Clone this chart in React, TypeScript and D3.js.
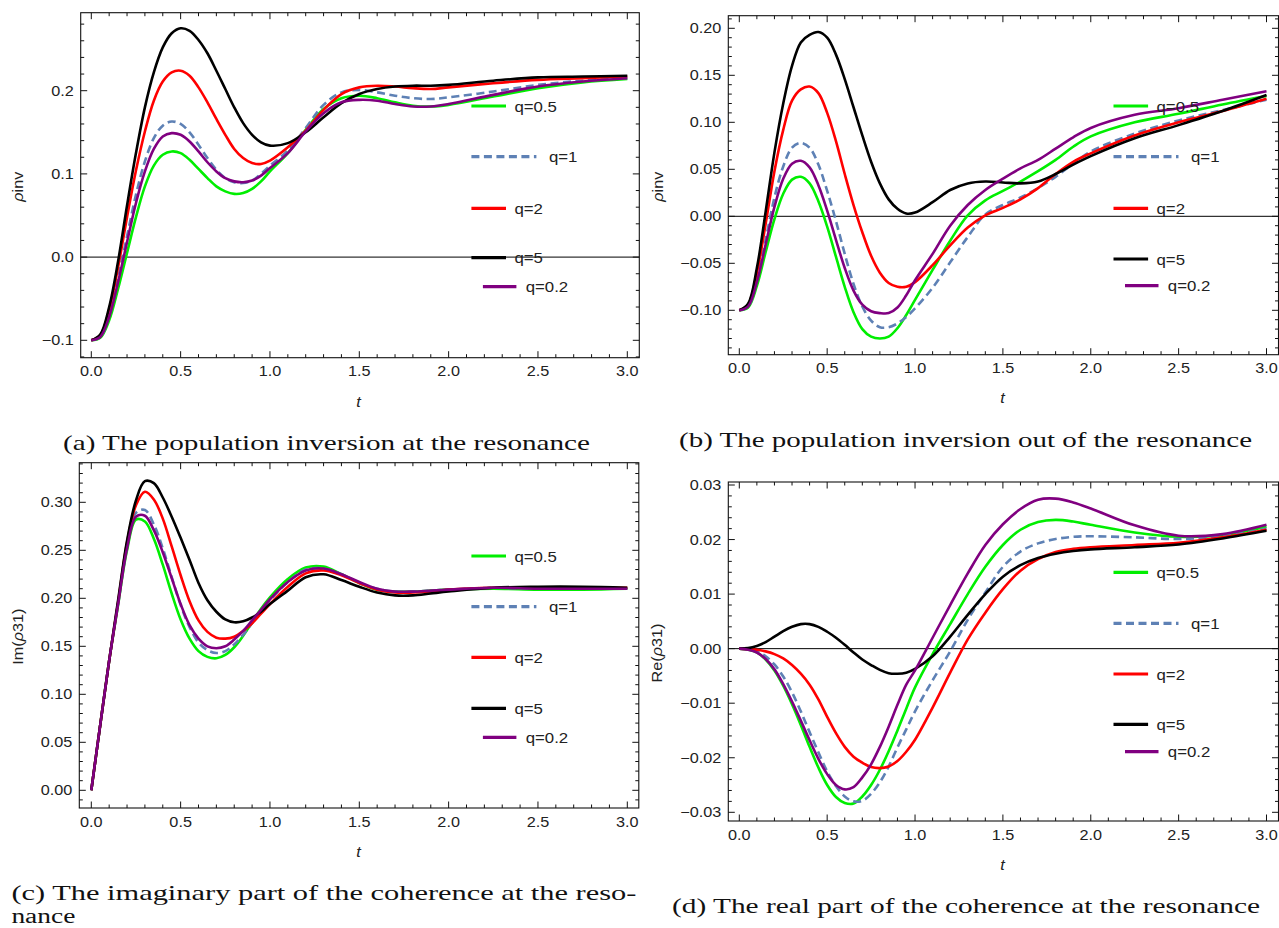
import React from 'react';
import * as d3 from 'd3';

// shared time grid
const T = [0, 0.05, 0.1, 0.15, 0.2, 0.25, 0.3, 0.35, 0.4, 0.45, 0.5, 0.55, 0.6, 0.65, 0.7, 0.75, 0.8, 0.85, 0.9, 0.95, 1.0,
  1.1, 1.2, 1.3, 1.4, 1.5, 1.6, 1.7, 1.8, 1.9, 2.0, 2.25, 2.5, 2.75, 3.0];

const LABELS = ['q=0.5', 'q=1', 'q=2', 'q=5', 'q=0.2'];

// (a) population inversion at resonance
const a_q05 = [-0.100, -0.097, -0.076, -0.038, 0.005, 0.048, 0.085, 0.110, 0.123, 0.127, 0.125, 0.117, 0.106, 0.095, 0.085, 0.079, 0.076, 0.077, 0.082, 0.091, 0.103,
  0.125, 0.153, 0.178, 0.191, 0.194, 0.191, 0.186, 0.182, 0.181, 0.183, 0.193, 0.203, 0.210, 0.214];
const a_q1 = [-0.100, -0.096, -0.070, -0.025, 0.025, 0.075, 0.115, 0.143, 0.158, 0.163, 0.160, 0.150, 0.135, 0.119, 0.105, 0.095, 0.090, 0.089, 0.092, 0.100, 0.110,
  0.128, 0.155, 0.183, 0.198, 0.201, 0.198, 0.194, 0.191, 0.190, 0.192, 0.199, 0.207, 0.212, 0.215];
const a_q2 = [-0.100, -0.094, -0.063, -0.012, 0.048, 0.104, 0.151, 0.188, 0.211, 0.222, 0.224, 0.218, 0.204, 0.186, 0.166, 0.147, 0.130, 0.119, 0.113, 0.112, 0.116,
  0.132, 0.152, 0.177, 0.196, 0.204, 0.206, 0.205, 0.203, 0.202, 0.204, 0.209, 0.213, 0.215, 0.217];
const a_q5 = [-0.100, -0.093, -0.060, -0.005, 0.062, 0.125, 0.180, 0.222, 0.252, 0.269, 0.275, 0.272, 0.261, 0.245, 0.224, 0.202, 0.180, 0.161, 0.147, 0.138, 0.134,
  0.137, 0.150, 0.168, 0.185, 0.196, 0.202, 0.205, 0.206, 0.206, 0.207, 0.212, 0.216, 0.217, 0.218];
const a_q02 = [-0.100, -0.096, -0.072, -0.030, 0.018, 0.065, 0.103, 0.130, 0.145, 0.149, 0.147, 0.139, 0.127, 0.114, 0.103, 0.095, 0.091, 0.090, 0.092, 0.098, 0.107,
  0.125, 0.151, 0.173, 0.186, 0.189, 0.188, 0.184, 0.181, 0.181, 0.184, 0.195, 0.205, 0.211, 0.215];

// (b) population inversion out of resonance
const b_q05 = [-0.100, -0.097, -0.074, -0.038, -0.003, 0.024, 0.039, 0.042, 0.035, 0.016, -0.011, -0.043, -0.075, -0.102, -0.120, -0.128, -0.130, -0.128, -0.119, -0.105, -0.089,
  -0.057, -0.026, 0.001, 0.017, 0.027, 0.037, 0.048, 0.060, 0.074, 0.085, 0.100, 0.109, 0.119, 0.128];
const b_q1 = [-0.100, -0.096, -0.068, -0.025, 0.020, 0.053, 0.073, 0.078, 0.073, 0.055, 0.027, -0.005, -0.040, -0.072, -0.096, -0.111, -0.118, -0.118, -0.114, -0.107, -0.098,
  -0.076, -0.049, -0.022, 0.002, 0.012, 0.020, 0.030, 0.042, 0.056, 0.069, 0.088, 0.102, 0.113, 0.124];
const b_q2 = [-0.100, -0.094, -0.060, -0.008, 0.048, 0.092, 0.123, 0.135, 0.138, 0.131, 0.110, 0.080, 0.045, 0.012, -0.017, -0.042, -0.060, -0.071, -0.075, -0.075, -0.070,
  -0.052, -0.031, -0.012, 0.001, 0.009, 0.018, 0.030, 0.045, 0.058, 0.067, 0.086, 0.100, 0.112, 0.125];
const b_q5 = [-0.100, -0.093, -0.055, 0.005, 0.068, 0.120, 0.160, 0.185, 0.193, 0.196, 0.190, 0.172, 0.146, 0.116, 0.086, 0.058, 0.035, 0.018, 0.008, 0.003, 0.004,
  0.015, 0.028, 0.035, 0.037, 0.036, 0.035, 0.037, 0.045, 0.055, 0.064, 0.083, 0.097, 0.112, 0.129];
const b_q02 = [-0.100, -0.096, -0.070, -0.030, 0.010, 0.040, 0.056, 0.059, 0.052, 0.033, 0.006, -0.025, -0.055, -0.079, -0.094, -0.101, -0.103, -0.103, -0.097, -0.084, -0.068,
  -0.040, -0.010, 0.012, 0.028, 0.040, 0.051, 0.060, 0.072, 0.084, 0.094, 0.108, 0.115, 0.124, 0.133];

// (c) imaginary part of coherence at resonance
const c_q05 = [0, 0.068, 0.135, 0.193, 0.250, 0.282, 0.280, 0.262, 0.235, 0.205, 0.178, 0.158, 0.145, 0.139, 0.1375, 0.141, 0.149, 0.161, 0.175, 0.189, 0.201,
  0.220, 0.232, 0.233, 0.225, 0.216, 0.209, 0.207, 0.207, 0.208, 0.209, 0.210, 0.209, 0.209, 0.210];
const c_q1 = [0, 0.068, 0.135, 0.194, 0.254, 0.289, 0.292, 0.277, 0.252, 0.222, 0.193, 0.170, 0.154, 0.146, 0.143, 0.145, 0.152, 0.162, 0.174, 0.186, 0.198,
  0.217, 0.230, 0.231, 0.225, 0.216, 0.210, 0.207, 0.207, 0.208, 0.209, 0.211, 0.210, 0.210, 0.210];
const c_q2 = [0, 0.068, 0.135, 0.196, 0.258, 0.297, 0.311, 0.303, 0.283, 0.254, 0.224, 0.197, 0.177, 0.165, 0.159, 0.158, 0.160, 0.166, 0.174, 0.184, 0.194,
  0.212, 0.226, 0.229, 0.224, 0.216, 0.209, 0.206, 0.206, 0.207, 0.209, 0.211, 0.211, 0.211, 0.211];
const c_q5 = [0, 0.068, 0.135, 0.198, 0.260, 0.302, 0.322, 0.320, 0.305, 0.285, 0.263, 0.240, 0.216, 0.198, 0.186, 0.178, 0.175, 0.176, 0.180, 0.186, 0.194,
  0.208, 0.222, 0.225, 0.219, 0.212, 0.206, 0.203, 0.203, 0.205, 0.207, 0.211, 0.212, 0.212, 0.211];
const c_q02 = [0, 0.068, 0.135, 0.194, 0.252, 0.285, 0.286, 0.271, 0.248, 0.221, 0.194, 0.172, 0.158, 0.150, 0.148, 0.150, 0.157, 0.166, 0.177, 0.188, 0.199,
  0.217, 0.229, 0.231, 0.225, 0.217, 0.210, 0.207, 0.207, 0.208, 0.209, 0.211, 0.210, 0.210, 0.210];

// (d) real part of coherence at resonance
const d_q05 = [0, -0.0002, -0.0007, -0.0020, -0.0040, -0.0068, -0.0102, -0.0140, -0.0180, -0.0218, -0.0250, -0.0272, -0.0283, -0.0284, -0.0271, -0.0250, -0.0222, -0.0188, -0.0150, -0.0110, -0.0071,
  -0.0010, 0.0045, 0.0100, 0.0150, 0.0190, 0.0218, 0.0232, 0.0236, 0.0233, 0.0227, 0.0213, 0.0205, 0.0208, 0.0224];
const d_q1 = [0, -0.0001, -0.0005, -0.0014, -0.0029, -0.0051, -0.0080, -0.0115, -0.0153, -0.0190, -0.0225, -0.0252, -0.0271, -0.0280, -0.0279, -0.0266, -0.0245, -0.0216, -0.0181, -0.0148, -0.0115,
  -0.0058, -0.0005, 0.0053, 0.0103, 0.0150, 0.0178, 0.0193, 0.0201, 0.0205, 0.0206, 0.0204, 0.0201, 0.0206, 0.0220];
const d_q2 = [0, -0.0001, -0.0002, -0.0005, -0.0010, -0.0018, -0.0030, -0.0046, -0.0066, -0.0093, -0.0125, -0.0155, -0.0180, -0.0198, -0.0209, -0.0217, -0.0219, -0.0216, -0.0206, -0.0189, -0.0167,
  -0.0108, -0.0044, 0.0017, 0.0066, 0.0109, 0.0143, 0.0164, 0.0177, 0.0183, 0.0186, 0.0190, 0.0194, 0.0204, 0.0218];
const d_q5 = [0, 0.0001, 0.0005, 0.0012, 0.0022, 0.0032, 0.0040, 0.0045, 0.0045, 0.0040, 0.0031, 0.0020, 0.0007, -0.0007, -0.0020, -0.0030, -0.0039, -0.0045, -0.0046, -0.0044, -0.0037,
  -0.0014, 0.0022, 0.0062, 0.0100, 0.0132, 0.0153, 0.0166, 0.0174, 0.0179, 0.0182, 0.0186, 0.0191, 0.0202, 0.0216];
const d_q02 = [0, -0.0002, -0.0007, -0.0019, -0.0038, -0.0065, -0.0097, -0.0132, -0.0168, -0.0202, -0.0230, -0.0250, -0.0258, -0.0254, -0.0236, -0.0212, -0.0180, -0.0143, -0.0103, -0.0066, -0.0040,
  0.0020, 0.0080, 0.0138, 0.0190, 0.0228, 0.0256, 0.0273, 0.0275, 0.0268, 0.0257, 0.0226, 0.0207, 0.0210, 0.0227];

const COLORS = ['#00ee00', '#5e81b5', '#ff0000', '#000000', '#800080'];
const DASH = [null, '8,4.5', null, null, null];

type Cfg = {
  id: string;
  frame: [number, number, number, number]; // x0, x1, y0, y1
  xr: [number, number];
  yd: [number, number];
  yr: [number, number];
  yMajor: number;
  yMinor: number;
  yDec: number;
  series: number[][];
  legendX: number;
  legendY: number[];
  ylabel: React.ReactNode;
  ylabelPos: [number, number];
  tPos: [number, number];
  zeroLine: boolean;
};

const TICK_FONT = "'Liberation Sans', Arial, sans-serif";
const SX = 1.12;

function fmt(v: number, dec: number) {
  const s = Math.abs(v).toFixed(dec);
  return (v < -1e-9 ? '\u2212' : '') + s;
}

function Panel({ cfg }: { cfg: Cfg }) {
  const [fx0, fx1, fy0, fy1] = cfg.frame;
  const x = d3.scaleLinear().domain([0, 3]).range(cfg.xr);
  const y = d3.scaleLinear().domain(cfg.yd).range(cfg.yr);
  const line = d3.line<number>()
    .x((_, i) => x(T[i]))
    .y((v) => y(v))
    .curve(d3.curveCatmullRom.alpha(0.5));

  const xMinor = d3.range(0, 31).map((i) => i * 0.1);
  const yLo = y.invert(fy1), yHi = y.invert(fy0);
  const yTicks: { v: number; major: boolean }[] = [];
  const start = Math.ceil(yLo / cfg.yMinor - 1e-6);
  const end = Math.floor(yHi / cfg.yMinor + 1e-6);
  for (let k = start; k <= end; k++) {
    const v = k * cfg.yMinor;
    const r = v / cfg.yMajor;
    yTicks.push({ v, major: Math.abs(r - Math.round(r)) < 1e-6 });
  }
  const ML = 6.5, mL = 3.5;
  const clipId = 'clip-' + cfg.id;

  return (
    <g>
      <defs>
        <clipPath id={clipId}>
          <rect x={fx0} y={fy0} width={fx1 - fx0} height={fy1 - fy0} />
        </clipPath>
      </defs>
      {cfg.zeroLine && (
        <line x1={fx0} x2={fx1} y1={y(0)} y2={y(0)} stroke="#000" strokeWidth={1} />
      )}
      <g clipPath={`url(#${clipId})`}>
        {cfg.series.map((s, i) => (
          <path key={i} d={line(s) || ''} fill="none" stroke={COLORS[i]} strokeWidth={2.6}
            strokeDasharray={DASH[i] || undefined} strokeLinejoin="round" />
        ))}
      </g>
      <rect x={fx0} y={fy0} width={fx1 - fx0} height={fy1 - fy0} fill="none" stroke="#111" strokeWidth={1.1} />
      {xMinor.map((t, i) => {
        const major = i % 5 === 0;
        const L = major ? ML : mL;
        const px = x(t);
        return (
          <g key={'xt' + i}>
            <line x1={px} x2={px} y1={fy1} y2={fy1 - L} stroke="#111" strokeWidth={1} />
            <line x1={px} x2={px} y1={fy0} y2={fy0 + L} stroke="#111" strokeWidth={1} />
          </g>
        );
      })}
      {d3.range(0, 7).map((i) => {
        const t = i * 0.5;
        return (
          <text key={'xl' + i} transform={`translate(${x(t)},${fy1 + 18.5}) scale(${SX},1)`} textAnchor="middle"
            fontFamily={TICK_FONT} fontSize={14.5} fill="#222">{t.toFixed(1)}</text>
        );
      })}
      {yTicks.map((tk, i) => {
        const py = y(tk.v);
        const L = tk.major ? ML : mL;
        return (
          <g key={'yt' + i}>
            <line x1={fx0} x2={fx0 + L} y1={py} y2={py} stroke="#111" strokeWidth={1} />
            <line x1={fx1} x2={fx1 - L} y1={py} y2={py} stroke="#111" strokeWidth={1} />
            {tk.major && (
              <text transform={`translate(${fx0 - 7},${py + 5}) scale(${SX},1)`} textAnchor="end"
                fontFamily={TICK_FONT} fontSize={14.5} fill="#222">{fmt(tk.v, cfg.yDec)}</text>
            )}
          </g>
        );
      })}
      <text transform={`translate(${cfg.tPos[0]},${cfg.tPos[1] + 5}) scale(${SX},1)`} textAnchor="middle"
        fontFamily={TICK_FONT} fontSize={14.5} fontStyle="italic" fill="#222">t</text>
      <text transform={`translate(${cfg.ylabelPos[0] + 5},${cfg.ylabelPos[1]}) rotate(-90) scale(${SX},1)`} textAnchor="middle"
        fontFamily={TICK_FONT} fontSize={14.5} fill="#222">{cfg.ylabel}</text>
      {LABELS.map((lab, i) => {
        const ly = cfg.legendY[i];
        let x0 = cfg.legendX, x1 = cfg.legendX + 34.6, tx = cfg.legendX + 43;
        if (i === 1) { x1 = cfg.legendX + 65; tx = cfg.legendX + 77.5; }
        if (i === 4) { x0 = cfg.legendX + 11.5; x1 = cfg.legendX + 45; tx = cfg.legendX + 54.3; }
        return (
          <g key={'lg' + i}>
            <line x1={x0} x2={x1} y1={ly} y2={ly} stroke={COLORS[i]} strokeWidth={3.2}
              strokeDasharray={DASH[i] || undefined} />
            <text transform={`translate(${tx},${ly + 5.5}) scale(${SX},1)`} fontFamily={TICK_FONT} fontSize={15} fill="#222">{lab}</text>
          </g>
        );
      })}
    </g>
  );
}

const rho = (rest: string) => (
  <>
    <tspan fontStyle="italic">{'\u03c1'}</tspan>
    <tspan>{rest}</tspan>
  </>
);

const PANELS: Cfg[] = [
  {
    id: 'a', frame: [80.7, 639.3, 12.7, 357.7], xr: [91.3, 627.3], yd: [-0.1, 0.2], yr: [340.3, 90.7],
    yMajor: 0.1, yMinor: 0.02, yDec: 1, series: [a_q05, a_q1, a_q2, a_q5, a_q02],
    legendX: 471.4, legendY: [106, 156.7, 208.3, 257.7, 286.7],
    ylabel: rho('inv'), ylabelPos: [18.4, 186.7], tPos: [358.4, 401.7], zeroLine: true,
  },
  {
    id: 'b', frame: [728.3, 1278.5, 15.7, 354.7], xr: [739.3, 1266.5], yd: [-0.1, 0.2], yr: [310.3, 28.3],
    yMajor: 0.05, yMinor: 0.01, yDec: 2, series: [b_q05, b_q1, b_q2, b_q5, b_q02],
    legendX: 1113.5, legendY: [106, 156.7, 208.3, 259, 285.7],
    ylabel: rho('inv'), ylabelPos: [658.4, 186.7], tPos: [1002.4, 398.3], zeroLine: true,
  },
  {
    id: 'c', frame: [79.3, 638.8, 462.7, 808], xr: [91.3, 627.3], yd: [0, 0.3], yr: [790.3, 502.3],
    yMajor: 0.05, yMinor: 0.01, yDec: 2, series: [c_q05, c_q1, c_q2, c_q5, c_q02],
    legendX: 471.4, legendY: [556, 606.7, 657.3, 708.3, 737.3],
    ylabel: <><tspan>Im(</tspan><tspan fontStyle="italic">{'\u03c1'}</tspan><tspan>31)</tspan></>,
    ylabelPos: [18.4, 636.7], tPos: [358.4, 851.7], zeroLine: false,
  },
  {
    id: 'd', frame: [728.3, 1278.5, 482, 821], xr: [739.3, 1266.5], yd: [-0.03, 0.03], yr: [812.3, 485],
    yMajor: 0.01, yMinor: 0.002, yDec: 2, series: [d_q05, d_q1, d_q2, d_q5, d_q02],
    legendX: 1113.5, legendY: [572.3, 623.3, 674, 724.3, 751.7],
    ylabel: <><tspan>Re(</tspan><tspan fontStyle="italic">{'\u03c1'}</tspan><tspan>31)</tspan></>,
    ylabelPos: [657, 653], tPos: [1002.4, 865], zeroLine: true,
  },
];

const CAP_FONT = "'Liberation Serif', 'Times New Roman', serif";

export default function App() {
  return (
    <svg width={1279} height={928} viewBox="0 0 1279 928"
      style={{ position: 'absolute', left: 0, top: 0, background: '#fff' }}>
      <rect x={0} y={0} width={1279} height={928} fill="#fff" />
      {PANELS.map((p) => <Panel key={p.id} cfg={p} />)}
      <text x={63} y={449.5} fontFamily={CAP_FONT} fontSize={21} textLength={527} lengthAdjust="spacingAndGlyphs" fill="#111">
        (a) The population inversion at the resonance
      </text>
      <text x={679} y={447} fontFamily={CAP_FONT} fontSize={21} textLength={573} lengthAdjust="spacingAndGlyphs" fill="#111">
        (b) The population inversion out of the resonance
      </text>
      <text x={11.4} y={899.5} fontFamily={CAP_FONT} fontSize={21} textLength={625} lengthAdjust="spacingAndGlyphs" fill="#111">
        (c) The imaginary part of the coherence at the reso-
      </text>
      <text x={11.4} y={922.5} fontFamily={CAP_FONT} fontSize={20} textLength={64} lengthAdjust="spacingAndGlyphs" fill="#111">
        nance
      </text>
      <text x={672} y={913} fontFamily={CAP_FONT} fontSize={21} textLength={588} lengthAdjust="spacingAndGlyphs" fill="#111">
        (d) The real part of the coherence at the resonance
      </text>
    </svg>
  );
}
